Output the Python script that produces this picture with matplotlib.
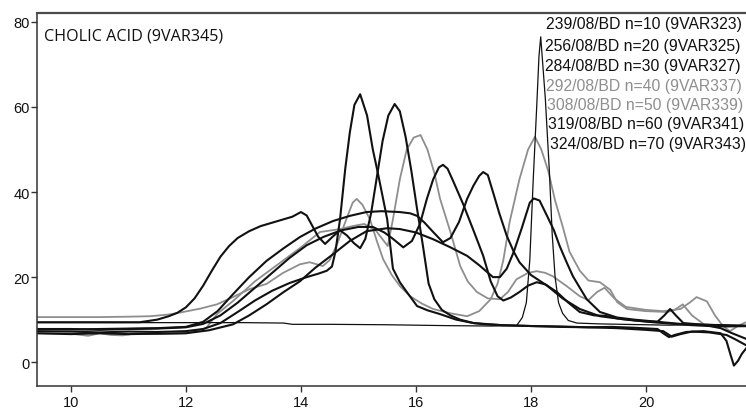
import matplotlib
matplotlib.use("Agg")
import matplotlib.pyplot as plt

# ---------------- data ----------------
title_text = "CHOLIC ACID (9VAR345)"
legend_labels = ["239/08/BD n=10 (9VAR323)", "256/08/BD n=20 (9VAR325)",
                 "284/08/BD n=30 (9VAR327)", "292/08/BD n=40 (9VAR337)",
                 "308/08/BD n=50 (9VAR339)", "319/08/BD n=60 (9VAR341)",
                 "324/08/BD n=70 (9VAR343)"]
legend_is_grey = [False, False, False, True, True, False, False]

x_ticks = [10, 12, 14, 16, 18, 20]
y_ticks = [0, 20, 40, 60, 80]

# cholic acid reference (thin black)
ca_x = [9.4, 10.0, 11.0, 12.0, 13.0, 13.7, 13.85, 14.5, 15.5, 16.5, 17.3, 17.75,
        17.85, 17.92, 17.98, 18.04, 18.1, 18.14, 18.17, 18.25, 18.32, 18.37, 18.42,
        18.48, 18.55, 18.65, 18.8, 19.2, 19.6, 20.0, 20.4, 20.8, 21.2, 21.74]
ca_y = [9.3, 9.3, 9.3, 9.3, 9.3, 9.2, 8.9, 8.9, 8.8, 8.6, 8.5, 8.6,
        10.5, 14.0, 24.0, 43.0, 60.0, 72.0, 76.5, 62.0, 45.0, 30.0, 20.0,
        14.0, 11.5, 9.8, 9.2, 9.0, 8.9, 8.8, 8.7, 8.8, 8.7, 8.6]

# n=10 (black): early rise, peak at 15.63
s10_x = [9.4, 10.0, 10.5, 11.0, 11.2, 11.5, 11.7, 11.85, 12.0, 12.15, 12.3, 12.45,
         12.6, 12.75, 12.9, 13.1, 13.3, 13.5, 13.7, 13.85, 14.0, 14.1, 14.2, 14.3,
         14.42, 14.55, 14.68, 14.8, 14.92, 15.03, 15.12, 15.22, 15.32, 15.42, 15.52,
         15.63, 15.72, 15.82, 15.92, 16.02, 16.12, 16.22, 16.32, 16.45, 16.6, 16.77,
         17.0, 17.2, 17.5, 18.0, 18.5, 19.0, 19.4, 19.8, 20.2, 20.3, 20.4, 20.5,
         20.7, 21.0, 21.3, 21.4, 21.47, 21.53, 21.6, 21.67, 21.74]
s10_y = [9.4, 9.4, 9.4, 9.4, 9.4, 10.0, 10.8, 11.6, 12.9, 15.0, 18.0, 21.5,
         24.8, 27.3, 29.2, 30.8, 32.0, 32.8, 33.6, 34.2, 35.3, 34.5, 32.0, 29.5,
         27.8, 29.5, 31.0, 29.8, 28.0, 26.8, 29.0, 35.0, 43.5, 52.0, 58.0,
         60.7, 59.0, 53.0, 45.0, 36.0, 27.5, 18.5, 14.8, 12.3, 11.0, 10.0,
         9.2, 8.9, 8.7, 8.5, 8.4, 8.2, 8.3, 8.1, 7.8, 6.8, 5.9, 6.4,
         7.1, 7.3, 6.8, 5.0, 1.8, -0.8, 0.3, 2.0, 3.2]

# n=20 (black): peak at 15.03
s20_x = [9.4, 10.0, 10.5, 11.0, 11.5, 12.0, 12.3, 12.6, 12.9, 13.2, 13.5, 13.8,
         14.1, 14.3, 14.45, 14.54, 14.6, 14.68, 14.77, 14.85, 14.93, 15.03, 15.15,
         15.25, 15.33, 15.42, 15.5, 15.6, 15.72, 15.83, 16.02, 16.2, 16.42, 16.7,
         17.0, 17.5, 18.0, 18.5, 19.0, 19.5, 20.0, 20.3, 20.45, 20.6, 20.8, 21.1,
         21.4, 21.55, 21.74]
s20_y = [7.3, 7.2, 7.0, 7.2, 7.1, 7.3, 7.8, 9.2, 11.8, 14.5, 16.8, 18.6,
         20.0, 20.8, 21.5, 22.5, 26.0, 33.6, 45.4, 54.0, 60.5, 63.0, 58.0,
         50.0, 45.0, 39.0, 33.6, 22.0, 18.8, 16.7, 13.2, 12.2, 11.3, 10.0,
         9.2, 8.7, 8.5, 8.3, 8.2, 8.0, 7.6, 7.3, 6.0, 6.6, 7.2, 7.0,
         6.4, 5.4, 4.0]

# n=30 (black): peak at 16.47
s30_x = [9.4, 10.0, 10.5, 11.0, 11.5, 12.0, 12.3, 12.6, 12.9, 13.2, 13.5, 13.8,
         14.1, 14.4, 14.7, 15.0, 15.25, 15.45, 15.6, 15.78, 15.93, 16.07, 16.19,
         16.3, 16.4, 16.47, 16.55, 16.65, 16.82, 17.0, 17.17, 17.3, 17.42, 17.52,
         17.65, 17.8, 17.95, 18.1, 18.25, 18.45, 18.65, 18.85, 19.1, 19.3, 19.5,
         19.8, 20.2, 20.5, 20.8, 21.1, 21.4, 21.74]
s30_y = [7.8, 7.8, 7.6, 7.8, 7.9, 8.2, 9.0, 11.0, 14.0, 17.5, 21.0, 24.5,
         27.5, 29.5, 31.0, 31.8, 31.8, 30.5, 29.0, 27.0, 28.5, 32.5, 38.4,
         43.0, 45.8, 46.4, 45.5, 42.5, 37.2, 31.0, 25.0, 19.0, 15.5, 14.5,
         15.2, 16.5, 18.0, 18.8, 18.3, 16.5, 14.0, 11.8, 11.0, 10.9, 10.3,
         9.8, 9.3, 9.0, 8.7, 8.5, 8.4, 8.5]

# n=40 (grey): peaks at 14.97 and 18.07
s40_x = [9.4, 10.0, 10.5, 11.0, 11.37, 11.7, 11.95, 12.25, 12.54, 12.8, 13.11,
         13.4, 13.69, 13.98, 14.15, 14.28, 14.38, 14.5, 14.63, 14.8, 14.9, 14.97,
         15.07, 15.2, 15.32, 15.43, 15.58, 15.72, 15.9, 16.1, 16.3, 16.6, 16.89,
         17.1, 17.3, 17.42, 17.52, 17.63, 17.8, 17.95, 18.07, 18.18, 18.3, 18.42,
         18.55, 18.67, 18.85, 19.0, 19.2, 19.38, 19.5, 19.67, 20.0, 20.37, 20.5,
         20.64, 20.8, 21.0, 21.3, 21.74]
s40_y = [10.6, 10.6, 10.6, 10.7, 10.8, 11.2, 11.8, 12.6, 13.6, 15.2, 17.2,
         18.4, 21.0, 23.0, 23.5, 23.0, 22.6, 24.0, 27.8, 34.0, 37.5, 38.4,
         37.0, 33.6, 28.5, 24.2, 20.5, 17.9, 15.5, 13.8, 12.5, 11.5, 10.8,
         12.0, 14.8, 18.5, 24.0, 33.0, 43.0, 50.0, 53.0, 50.0, 45.0, 38.0,
         32.0, 26.0, 21.5, 19.2, 18.8, 17.0, 14.1, 12.5, 12.0, 11.8, 12.3,
         13.6, 11.0, 9.0, 8.6, 8.4]

# n=50 (grey): broad hump, peak at 16.08, bump at 18.1
s50_x = [9.4, 10.0, 10.3, 10.5, 10.7, 10.9, 11.1, 11.5, 12.0, 12.35, 12.54, 12.82,
         13.2, 13.6, 14.0, 14.33, 14.68, 14.9, 15.1, 15.3, 15.51, 15.6, 15.72,
         15.84, 15.96, 16.08, 16.2, 16.32, 16.42, 16.6, 16.77, 16.9, 17.06, 17.25,
         17.46, 17.6, 17.75, 17.95, 18.1, 18.25, 18.38, 18.62, 18.85, 19.0, 19.15,
         19.28, 19.45, 19.65, 20.0, 20.3, 20.6, 20.77, 20.88, 21.06, 21.2, 21.34,
         21.46, 21.6, 21.74]
s50_y = [6.8, 6.7, 6.2, 6.8, 6.4, 6.3, 6.7, 6.6, 6.8, 8.0, 11.3, 14.4,
         19.0, 23.0, 27.0, 30.6, 31.3, 32.0, 32.5, 31.0, 27.3, 33.6, 43.0,
         50.0, 52.8, 53.4, 50.0, 44.5, 38.4, 30.6, 22.6, 19.0, 16.5, 15.0,
         14.8, 16.5, 19.5, 21.0, 21.4, 21.0, 20.2, 17.9, 15.5, 14.6, 16.5,
         17.5, 15.0, 13.0, 12.3, 12.0, 12.5, 14.1, 15.3, 14.3, 11.0, 8.5,
         7.3, 8.5, 9.4]

# n=60 (black): broad hump then peak at 17.17
s60_x = [9.4, 10.0, 10.5, 11.0, 11.5, 12.0, 12.3, 12.55, 12.82, 13.1, 13.4, 13.7,
         13.98, 14.25, 14.56, 14.85, 15.14, 15.4, 15.72, 15.9, 16.02, 16.15, 16.3,
         16.47, 16.6, 16.75, 16.89, 17.0, 17.1, 17.17, 17.25, 17.34, 17.45, 17.58,
         17.7, 17.8, 18.0, 18.28, 18.55, 18.85, 19.2, 19.6, 20.0, 20.2, 20.32,
         20.42, 20.52, 20.65, 21.0, 21.4, 21.74]
s60_y = [7.8, 7.7, 7.8, 7.9, 8.0, 8.3, 9.5, 12.0, 16.0, 20.0, 23.8, 26.8,
         29.4, 31.4, 33.2, 34.4, 35.3, 35.5, 35.3, 35.0, 34.4, 32.8, 30.6,
         28.2, 29.2, 33.0, 38.4, 41.5, 43.8, 44.7, 44.0, 40.0, 35.0, 29.7,
         26.0, 23.5, 20.5, 18.0, 15.0, 12.5, 10.8, 10.1, 9.6, 9.5, 11.0,
         12.5, 11.0, 9.2, 8.8, 8.7, 8.6]

# n=70 (black): lower broad hump then peak at 18.05
s70_x = [9.4, 10.0, 10.5, 11.0, 11.5, 12.0, 12.4, 12.82, 13.1, 13.4, 13.7, 13.98,
         14.25, 14.56, 14.85, 15.14, 15.5, 15.72, 16.0, 16.3, 16.6, 16.89, 17.1,
         17.34, 17.46, 17.58, 17.7, 17.84, 17.98, 18.05, 18.15, 18.28, 18.4, 18.5,
         18.62, 18.73, 18.85, 18.97, 19.2, 19.5, 19.8, 20.2, 20.6, 21.0, 21.3,
         21.5, 21.74]
s70_y = [6.8, 6.6, 6.8, 6.6, 6.7, 6.8, 7.5, 8.9, 11.0, 13.6, 16.5, 19.0,
         22.2, 25.4, 28.5, 30.8, 31.5, 31.3, 30.5, 28.9, 27.0, 25.0, 22.8,
         20.0, 20.0, 22.0, 25.9, 31.5, 37.5, 38.5, 38.0, 34.4, 31.0, 27.3,
         23.5, 20.2, 17.5, 14.8, 11.8, 10.5, 10.0, 9.5, 9.0, 8.8, 8.0,
         6.8, 5.5]

BLACK = "#111111"
GREY = "#8e8e8e"

# ---------------- figure ----------------
fig = plt.figure(figsize=(7.46, 4.10), dpi=100)
ax = fig.add_axes([37 / 746, 23 / 410, 1 - 37 / 746, (387 - 14) / 410])

ax.plot(s40_x, s40_y, color=GREY, lw=1.3, solid_joinstyle="round")
ax.plot(s50_x, s50_y, color=GREY, lw=1.3, solid_joinstyle="round")
ax.plot(ca_x, ca_y, color=BLACK, lw=0.9, solid_joinstyle="round")
for xs, ys in [(s10_x, s10_y), (s20_x, s20_y), (s30_x, s30_y),
               (s60_x, s60_y), (s70_x, s70_y)]:
    ax.plot(xs, ys, color=BLACK, lw=1.5, solid_joinstyle="round")

ax.set_xlim(9.41, 21.74)
ax.set_ylim(-5.6, 82.1)
ax.set_xticks(x_ticks)
ax.set_yticks(y_ticks)
ax.tick_params(axis="both", direction="out", length=4.5, width=1.0,
               color="#333333", labelsize=10.5, labelcolor="#111111")
ax.tick_params(axis="y", pad=0.8)
ax.tick_params(axis="x", pad=2.0)
for lab in ax.get_xticklabels() + ax.get_yticklabels():
    lab.set_family("Liberation Sans")

ax.spines["right"].set_visible(False)
for s in ["left", "bottom"]:
    ax.spines[s].set_color("#333333")
    ax.spines[s].set_linewidth(1.1)
ax.spines["top"].set_color("#4a4a4a")
ax.spines["top"].set_linewidth(1.6)

fig.text(44 / 746, 1 - 36.5 / 410, title_text, family="Open Sans", fontsize=11.6,
         color="#111111", ha="left", va="center")

leg_x_px = [546, 545, 545, 546, 547, 548, 550]
leg_y_px = [25, 47, 66, 86, 105.5, 125, 145]
for lab, g, xp, yp in zip(legend_labels, legend_is_grey, leg_x_px, leg_y_px):
    fig.text(xp / 746, 1 - yp / 410, lab, family="Liberation Sans", fontsize=11.3,
             color=(GREY if g else "#111111"), ha="left", va="center")

fig.savefig("out.png", dpi=100)
